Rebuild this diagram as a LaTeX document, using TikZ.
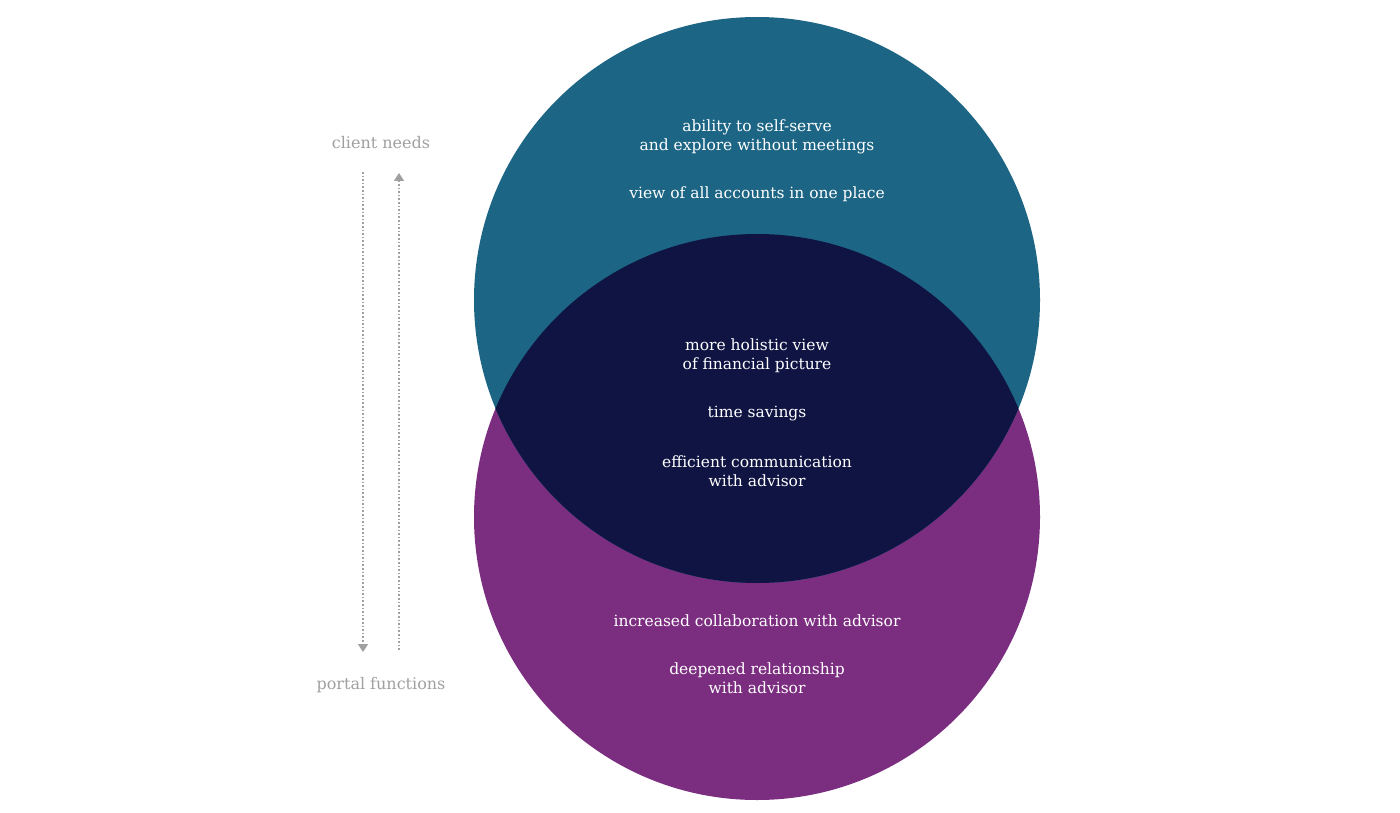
\documentclass[tikz,border=0pt]{standalone}
\usepackage{fontspec}
\setmainfont{DejaVu Serif}
\usetikzlibrary{arrows.meta}
\definecolor{topc}{HTML}{1C6584}
\definecolor{botc}{HTML}{7B2D80}
\definecolor{midc}{HTML}{0F1442}
\definecolor{gr}{HTML}{A0A0A0}
\begin{document}
\begin{tikzpicture}[x=1pt,y=-1pt,
  lbl/.style={text=white,align=center,font=\fontsize{15.5}{19}\selectfont},
  side/.style={text=gr,align=center,font=\fontsize{16}{19}\selectfont},
  dl/.style={gr,line width=1.6pt,dotted,-{Triangle[length=8pt,width=10pt]}}]
\useasboundingbox (0,0) rectangle (1400,813);
\fill[white] (0,0) rectangle (1400,813);
\fill[botc] (757,517) circle (283);
\fill[topc] (757,300) circle (283);
\begin{scope}\clip (757,517) circle (283);\fill[midc] (757,300) circle (283);\end{scope}
\node[lbl] (t1) at (757,137) {ability to self-serve\\and explore without meetings};
\node[lbl] (t2) at (757,194) {view of all accounts in one place};
\node[lbl] (m1) at (757,356) {more holistic view\\of financial picture};
\node[lbl] (m2) at (757,414) {time savings};
\node[lbl] (m3) at (757,471) {efficient communication\\with advisor};
\node[lbl] (b1) at (757,621) {increased collaboration with advisor};
\node[lbl] (b2) at (757,678) {deepened relationship\\with advisor};
\node[side] (cn) at (381,143) {client needs};
\node[side] (pf) at (381,685) {portal functions};
\coordinate (a1) at (363,172); \coordinate (a2) at (363,652);
\coordinate (c1) at (399,650); \coordinate (c2) at (399,173);
\draw[dl] (a1) -- (a2);
\draw[dl] (c1) -- (c2);
\end{tikzpicture}
\end{document}
